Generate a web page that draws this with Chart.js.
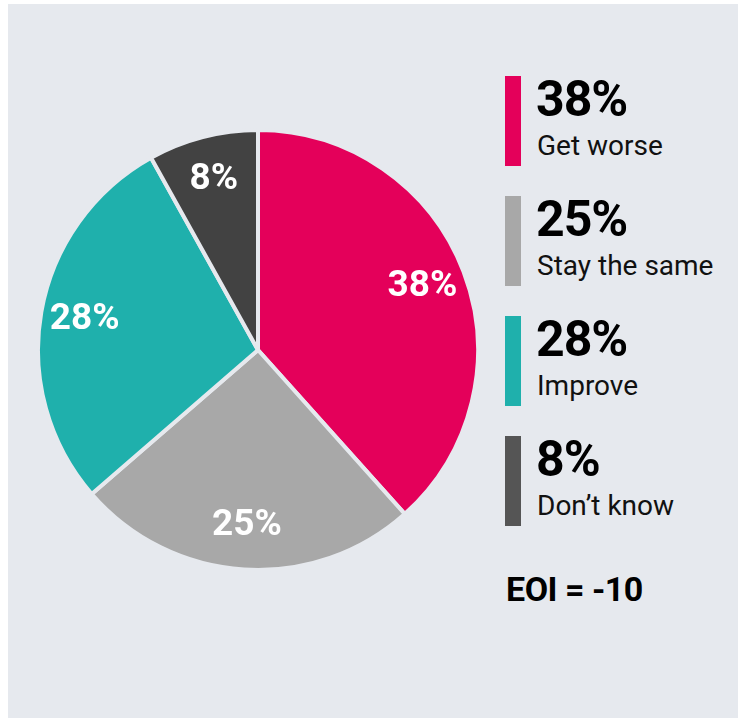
<!DOCTYPE html>
<html>
<head>
<meta charset="utf-8">
<script src="https://cdn.jsdelivr.net/npm/chart.js@4.4.1/dist/chart.umd.min.js"></script>
<style>
  html, body { margin:0; padding:0; background:#fff; }
  #panel { position:absolute; left:8px; top:4px; width:730px; height:714px; background:#e6e9ee; }
  #wrap { position:absolute; left:36px; top:128px; width:444px; height:444px; }
  .leg { position:absolute; left:505px; height:90px; }
  .leg .bar { position:absolute; left:0; top:0; width:16px; height:90px; }
  .leg .pct { position:absolute; left:31px; top:-2px; font:700 50px Roboto, sans-serif; letter-spacing:-1px; color:#000; white-space:nowrap; line-height:1; }
  .leg .lab { position:absolute; left:32px; top:56px; font:400 28px Roboto, sans-serif; color:#111; white-space:nowrap; line-height:1; }
  #eoi { position:absolute; left:506px; top:572px; font:700 34px Roboto, sans-serif; letter-spacing:-0.5px; color:#000; white-space:nowrap; line-height:1; }
</style>
</head>
<body>
<div id="panel"></div>
<div id="wrap"><canvas id="pie"></canvas></div>
<div id="legend"></div>
<div id="eoi"></div>
<script>
"use strict";
const labels  = ['Get worse', 'Stay the same', 'Improve', "Don\u2019t know"];
const values  = [38, 25, 28, 8];
const colors  = ['#e4005a', '#a8a8a8', '#1fb0ac', '#424242'];
const legColors = ['#e4005a', '#a8a8a8', '#1fb0ac', '#555555'];
const eoiText = 'EOI = -10';

// legenda
const lg = document.getElementById('legend');
labels.forEach((l, i) => {
  const d = document.createElement('div');
  d.className = 'leg';
  d.style.top = (76 + i * 120) + 'px';
  d.innerHTML = `<div class="bar" style="background:${legColors[i]}"></div>
    <div class="pct">${values[i]}%</div><div class="lab">${l}</div>`;
  lg.appendChild(d);
});
document.getElementById('eoi').textContent = eoiText;

const sliceLabels = {
  id:'sliceLabels',
  afterDatasetsDraw(chart) {
    const {ctx} = chart;
    const meta = chart.getDatasetMeta(0);
    ctx.save();
    ctx.font = '700 37px Roboto, sans-serif';
    ctx.fillStyle = '#fff';
    ctx.textAlign = 'center';
    ctx.textBaseline = 'middle';
    meta.data.forEach((arc, i) => {
      const p = arc.getProps(['x','y','startAngle','endAngle','outerRadius'], true);
      const a = (p.startAngle + p.endAngle) / 2;
      const r = p.outerRadius * 0.8;
      ctx.fillText(values[i] + '%', p.x + Math.cos(a) * r, p.y + Math.sin(a) * r);
    });
    ctx.restore();
  }
};

new Chart(document.getElementById('pie'), {
  type:'pie',
  data:{
    labels,
    datasets:[{
      data:values,
      backgroundColor:colors,
      borderColor:'#e6e9ee',
      borderWidth:4,
      hoverOffset:0
    }]
  },
  options:{
    responsive:true,
    maintainAspectRatio:false,
    animation:false,
    layout:{ padding:0 },
    plugins:{ legend:{ display:false }, tooltip:{ enabled:false } }
  },
  plugins:[sliceLabels]
});
</script>
</body>
</html>
